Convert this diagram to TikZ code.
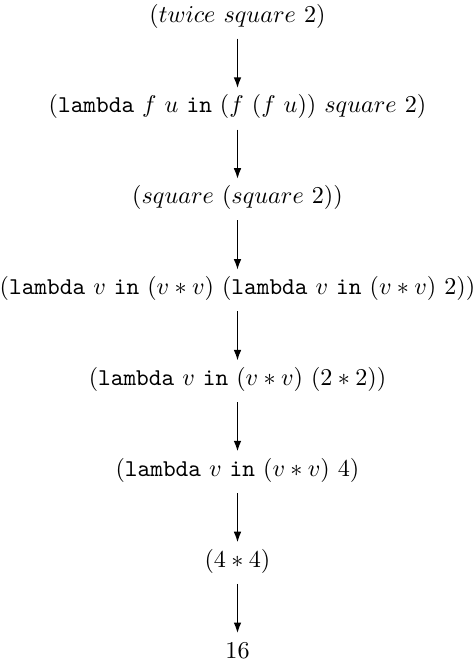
\documentclass[tikz,border=0pt]{standalone}
\usetikzlibrary{arrows.meta}
\begin{document}
\begin{tikzpicture}[x=0.414pt,y=-0.414pt,
  term/.style={inner sep=0pt, text height=7.5pt, text depth=2.5pt},
  step arrow/.style={-{Latex[length=4.5pt,width=3.2pt]}, line width=0.75pt, shorten <=4.2pt, shorten >=2.5pt}]
\useasboundingbox (0,0) rectangle (475,664);
\node[term] (n1) at (237.5,16) {$(twice\ square\ 2)$};
\node[term] (n2) at (237.5,106.9) {$(\texttt{lambda}\ f\ u\ \texttt{in}\ (f\ (f\ u))\ square\ 2)$};
\node[term] (n3) at (237.5,197.7) {$(square\ (square\ 2))$};
\node[term] (n4) at (237.5,288.6) {$(\texttt{lambda}\ v\ \texttt{in}\ (v*v)\ (\texttt{lambda}\ v\ \texttt{in}\ (v*v)\ 2))$};
\node[term] (n5) at (237.5,379.4) {$(\texttt{lambda}\ v\ \texttt{in}\ (v*v)\ (2*2))$};
\node[term] (n6) at (237.5,470.3) {$(\texttt{lambda}\ v\ \texttt{in}\ (v*v)\ 4)$};
\node[term] (n7) at (237.5,561.2) {$(4*4)$};
\node[term] (n8) at (237.5,652) {$16$};
\foreach \a/\b in {n1/n2,n2/n3,n3/n4,n4/n5,n5/n6,n6/n7,n7/n8}
  \draw[step arrow] (\a) -- (\b);
\end{tikzpicture}
\end{document}
